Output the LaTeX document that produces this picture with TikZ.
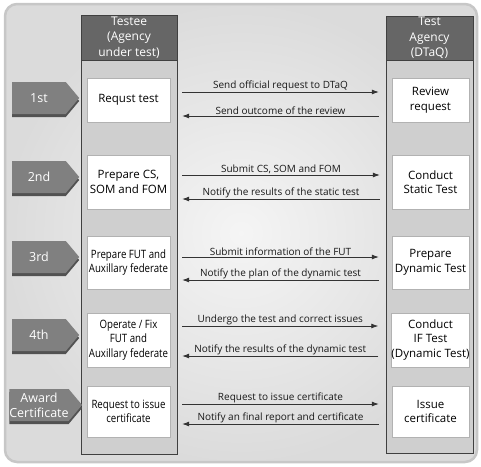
\documentclass[tikz,border=0pt]{standalone}
\usepackage{fontspec}
\setmainfont{Open Sans}
\newfontfamily\narrowfont[FakeStretch=0.84]{Open Sans}
\usepackage{tikz}
\usetikzlibrary{arrows.meta, shapes.symbols, shadows, positioning}
\tikzset{
  frame/.style={draw=black!22,line width=2.5pt,rounded corners=12pt,inner color=black!4,outer color=black!14},
  colbox/.style={rectangle,draw=black!75,fill=black!19,line width=0.7pt,minimum width=96pt,minimum height=439pt,inner sep=0pt},
  hdr/.style={rectangle,draw=black!75,fill=black!60,line width=0.7pt,text=white,align=center,minimum height=45pt,inner sep=0pt,font=\fontsize{12}{15.5}\selectfont},
  tab/.style={signal,signal to=east,signal pointer angle=100,fill=black!50,text=white,align=center,minimum width=67pt,minimum height=32pt,inner sep=0pt,font=\fontsize{12.5}{15}\selectfont,drop shadow={shadow xshift=0pt,shadow yshift=-3pt,fill=black!68,opacity=1}},
  wbox/.style={rectangle,draw=black!30,fill=white,align=center,minimum width=83pt,inner sep=0pt,font=\fontsize{11.5}{14.5}\selectfont},
  rwbox/.style={wbox,minimum width=77pt},
  arr/.style={-{Latex[length=7pt,width=5pt]},draw=black!80,line width=0.8pt},
  lbl/.style={above,inner sep=1pt,text=black!90,font=\fontsize{10}{11}\selectfont}
}
\begin{document}
\begin{tikzpicture}[x=1pt,y=-1pt]
  \useasboundingbox (0,0) rectangle (481,466);
  \path[frame] (5,4) rectangle (477,462);

  % columns and headers
  \node[colbox] (lcol) at (129,234.5) {};
  \node[colbox, minimum width=87pt, minimum height=437pt] (rcol) at (429.5,234.5) {};
  \node[hdr, minimum width=96pt] (lhdr) at (129,37.5) {Testee\\(Agency\\under test)};
  \node[hdr, minimum width=87pt, minimum height=44pt] (rhdr) at (429.5,38) {Test\\Agency\\(DTaQ)};

  % steps
  \node[tab] (tab1) at (39,98)  {1st};
  \node[tab] (tab2) at (39,177) {2nd};
  \node[tab] (tab3) at (39,257) {3rd};
  \node[tab] (tab4) at (39,335) {4th};
  \node[tab] (tab5) at (39,405) {Award\\Certificate};

  % testee side
  \node[wbox, minimum height=44pt] (lbox1) at (128.5,100)   {Requst test};
  \node[wbox, minimum height=54pt] (lbox2) at (128.5,182)   {Prepare CS,\\SOM and FOM};
  \node[wbox, minimum height=53pt] (lbox3) at (128.5,262.5) {\narrowfont Prepare FUT and\\\narrowfont Auxillary federate};
  \node[wbox, minimum height=54pt] (lbox4) at (128.5,340)   {\narrowfont Operate / Fix\\\narrowfont FUT and\\\narrowfont Auxillary federate};
  \node[wbox, minimum height=51pt] (lbox5) at (128.5,411.5) {\narrowfont Request to issue\\\narrowfont certificate};

  % agency side
  \node[rwbox, minimum height=44pt] (rbox1) at (430.5,100)   {Review\\request};
  \node[rwbox, minimum height=54pt] (rbox2) at (430.5,182)   {Conduct\\Static Test};
  \node[rwbox, minimum height=53pt] (rbox3) at (430.5,262.5) {Prepare\\Dynamic Test};
  \node[rwbox, minimum height=54pt] (rbox4) at (430.5,340)   {Conduct\\IF Test\\(Dynamic Test)};
  \node[rwbox, minimum height=51pt] (rbox5) at (430.5,411.5) {Issue\\certificate};

  % messages
  \draw[arr] ([xshift=12pt,yshift=8pt]lbox1.east) -- node[lbl]{Send official request to DTaQ} ([xshift=-13pt,yshift=8pt]rbox1.west);
  \draw[arr] ([xshift=-13pt,yshift=-16pt]rbox1.west) -- node[lbl]{Send outcome of the review} ([xshift=12pt,yshift=-16pt]lbox1.east);
  \draw[arr] ([xshift=12pt,yshift=7pt]lbox2.east) -- node[lbl]{Submit CS, SOM and FOM} ([xshift=-12pt,yshift=7pt]rbox2.west);
  \draw[arr] ([xshift=-12pt,yshift=-17pt]rbox2.west) -- node[lbl]{Notify the results of the static test} ([xshift=12pt,yshift=-17pt]lbox2.east);
  \draw[arr] ([xshift=12pt,yshift=5.5pt]lbox3.east) -- node[lbl]{Submit information of the FUT} ([xshift=-13pt,yshift=5.5pt]rbox3.west);
  \draw[arr] ([xshift=-13pt,yshift=-17.5pt]rbox3.west) -- node[lbl]{Notify the plan of the dynamic test} ([xshift=12pt,yshift=-17.5pt]lbox3.east);
  \draw[arr] ([xshift=12pt,yshift=14pt]lbox4.east) -- node[lbl]{Undergo the test and correct issues} ([xshift=-13pt,yshift=14pt]rbox4.west);
  \draw[arr] ([xshift=-13pt,yshift=-16pt]rbox4.west) -- node[lbl]{Notify the results of the dynamic test} ([xshift=12pt,yshift=-16pt]lbox4.east);
  \draw[arr] ([xshift=12pt,yshift=7.5pt]lbox5.east) -- node[lbl]{Request to issue certificate} ([xshift=-13pt,yshift=7.5pt]rbox5.west);
  \draw[arr] ([xshift=-13pt,yshift=-12.5pt]rbox5.west) -- node[lbl]{Notify an final report and certificate} ([xshift=12pt,yshift=-12.5pt]lbox5.east);
\end{tikzpicture}
\end{document}
